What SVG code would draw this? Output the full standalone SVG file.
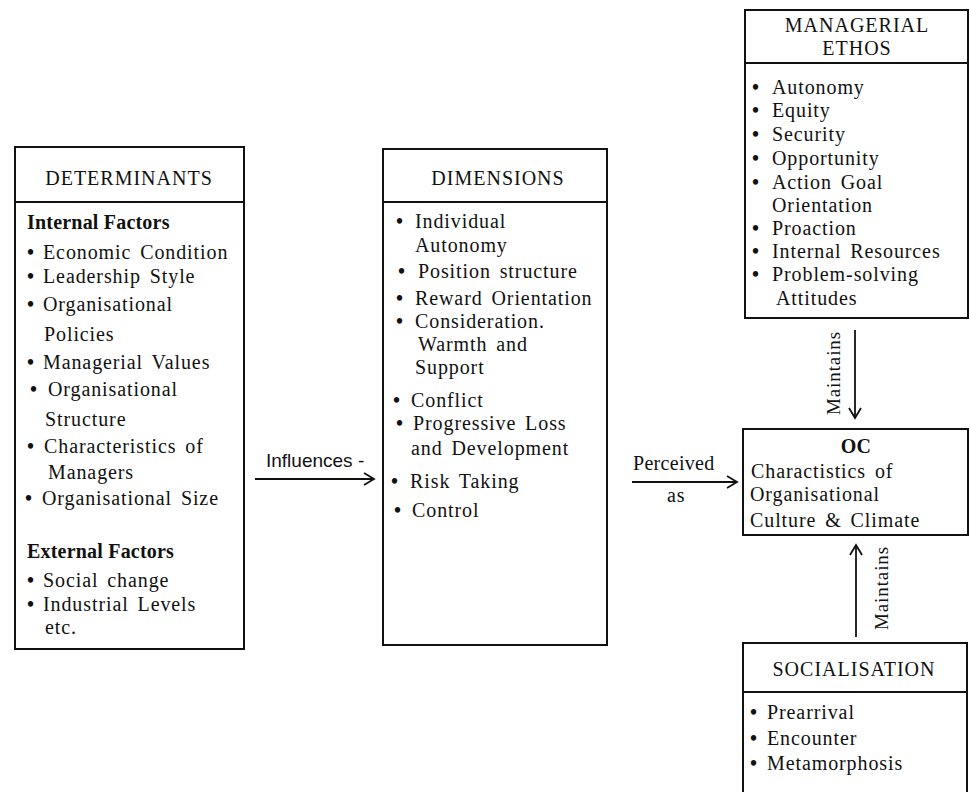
<svg xmlns="http://www.w3.org/2000/svg" width="970" height="792" viewBox="0 0 970 792">
<style>
.box{fill:#fff;stroke:#111;stroke-width:2}
.div{stroke:#111;stroke-width:2.2}
.t{font-family:"Liberation Serif","Times New Roman",serif;font-size:20px;fill:#111;letter-spacing:0.9px;word-spacing:3px}
.h{font-family:"Liberation Serif","Times New Roman",serif;font-size:20px;fill:#111;letter-spacing:1px;text-anchor:middle}
.b{font-weight:bold;letter-spacing:0.2px;word-spacing:0}
.u{font-weight:bold}
.s{font-family:"Liberation Sans",Arial,sans-serif;font-size:19px;fill:#111}
.con{stroke:#111;stroke-width:1.8;fill:none}
</style>
<defs>
<marker id="arr" markerUnits="userSpaceOnUse" markerWidth="14" markerHeight="14" refX="11" refY="7" orient="auto">
<path d="M1,1 L11,7 L1,13" fill="none" stroke="#111" stroke-width="1.8"/>
</marker>
</defs>
<rect width="970" height="792" fill="#fff"/>

<g id="determinants">
<rect class="box" x="15" y="147" width="229" height="502"/>
<line class="div" x1="15" y1="202" x2="244" y2="202"/>
<text class="h" x="129" y="185">DETERMINANTS</text>
<text class="t b" x="27" y="229">Internal Factors</text>
<text class="t" y="259"><tspan class="u" x="27">•</tspan><tspan x="43">Economic Condition</tspan></text>
<text class="t" y="283"><tspan class="u" x="27">•</tspan><tspan x="43">Leadership Style</tspan></text>
<text class="t" y="311"><tspan class="u" x="27">•</tspan><tspan x="43">Organisational</tspan></text>
<text class="t" x="44" y="341">Policies</text>
<text class="t" y="369"><tspan class="u" x="27">•</tspan><tspan x="43">Managerial Values</tspan></text>
<text class="t" y="396"><tspan class="u" x="30">•</tspan><tspan x="48">Organisational</tspan></text>
<text class="t" x="45" y="426">Structure</text>
<text class="t" y="453"><tspan class="u" x="27">•</tspan><tspan x="44">Characteristics of</tspan></text>
<text class="t" x="48" y="479">Managers</text>
<text class="t" y="505"><tspan class="u" x="25">•</tspan><tspan x="42">Organisational Size</tspan></text>
<text class="t b" x="27" y="558">External Factors</text>
<text class="t" y="587"><tspan class="u" x="27">•</tspan><tspan x="43">Social change</tspan></text>
<text class="t" y="611"><tspan class="u" x="27">•</tspan><tspan x="43">Industrial Levels</tspan></text>
<text class="t" x="45" y="634">etc.</text>
</g>

<g id="dimensions">
<rect class="box" x="383" y="149" width="224" height="496"/>
<line class="div" x1="383" y1="202" x2="607" y2="202"/>
<text class="h" x="498" y="185">DIMENSIONS</text>
<text class="t" y="228"><tspan class="u" x="396">•</tspan><tspan x="415">Individual</tspan></text>
<text class="t" x="415" y="252">Autonomy</text>
<text class="t" y="278"><tspan class="u" x="398">•</tspan><tspan x="418">Position structure</tspan></text>
<text class="t" y="305"><tspan class="u" x="396">•</tspan><tspan x="415">Reward Orientation</tspan></text>
<text class="t" y="328"><tspan class="u" x="396">•</tspan><tspan x="415">Consideration.</tspan></text>
<text class="t" x="418" y="351">Warmth and</text>
<text class="t" x="415" y="374">Support</text>
<text class="t" y="407"><tspan class="u" x="393">•</tspan><tspan x="411">Conflict</tspan></text>
<text class="t" y="430"><tspan class="u" x="396">•</tspan><tspan x="413">Progressive Loss</tspan></text>
<text class="t" x="411" y="455">and Development</text>
<text class="t" y="488"><tspan class="u" x="391">•</tspan><tspan x="410">Risk Taking</tspan></text>
<text class="t" y="517"><tspan class="u" x="394">•</tspan><tspan x="412">Control</tspan></text>
</g>

<g id="managerial-ethos">
<rect class="box" x="745" y="10" width="223" height="308"/>
<line class="div" x1="745" y1="63" x2="968" y2="63"/>
<text class="h" x="857" y="32">MANAGERIAL</text>
<text class="h" x="857" y="55">ETHOS</text>
<text class="t" y="94"><tspan class="u" x="752">•</tspan><tspan x="772">Autonomy</tspan></text>
<text class="t" y="117"><tspan class="u" x="752">•</tspan><tspan x="772">Equity</tspan></text>
<text class="t" y="141"><tspan class="u" x="752">•</tspan><tspan x="772">Security</tspan></text>
<text class="t" y="165"><tspan class="u" x="752">•</tspan><tspan x="772">Opportunity</tspan></text>
<text class="t" y="189"><tspan class="u" x="752">•</tspan><tspan x="772">Action Goal</tspan></text>
<text class="t" x="772" y="212">Orientation</text>
<text class="t" y="235"><tspan class="u" x="752">•</tspan><tspan x="772">Proaction</tspan></text>
<text class="t" y="258"><tspan class="u" x="752">•</tspan><tspan x="772">Internal Resources</tspan></text>
<text class="t" y="281"><tspan class="u" x="752">•</tspan><tspan x="772">Problem-solving</tspan></text>
<text class="t" x="776" y="305">Attitudes</text>
</g>

<g id="oc">
<rect class="box" x="743" y="429" width="225" height="106"/>
<text class="h b" x="856" y="453">OC</text>
<text class="t" x="751" y="478">Charactistics of</text>
<text class="t" x="750" y="501">Organisational</text>
<text class="t" x="750" y="527">Culture &amp; Climate</text>
</g>

<g id="socialisation">
<path class="box" d="M743,792 V643 H967 V792"/>
<line class="div" x1="743" y1="692" x2="967" y2="692"/>
<text class="h" x="854" y="676">SOCIALISATION</text>
<text class="t" y="719"><tspan class="u" x="750">•</tspan><tspan x="767">Prearrival</tspan></text>
<text class="t" y="745"><tspan class="u" x="750">•</tspan><tspan x="767">Encounter</tspan></text>
<text class="t" y="770"><tspan class="u" x="750">•</tspan><tspan x="767">Metamorphosis</tspan></text>
</g>

<g id="connectors">
<line class="con" x1="255" y1="479" x2="374" y2="479" marker-end="url(#arr)"/>
<text class="s" x="266" y="467">Influences -</text>
<line class="con" x1="632" y1="482" x2="737" y2="482" marker-end="url(#arr)"/>
<text class="t" x="633" y="470" style="letter-spacing:0.3px">Perceived</text>
<text class="t" x="667" y="502">as</text>
<line class="con" x1="855" y1="330" x2="855" y2="418" marker-end="url(#arr)"/>
<text class="t" transform="translate(840,373) rotate(-90)" text-anchor="middle" style="font-size:19px">Maintains</text>
<line class="con" x1="856" y1="637" x2="856" y2="545" marker-end="url(#arr)"/>
<text class="t" transform="translate(888,588) rotate(-90)" text-anchor="middle" style="font-size:19px">Maintains</text>
</g>
</svg>
